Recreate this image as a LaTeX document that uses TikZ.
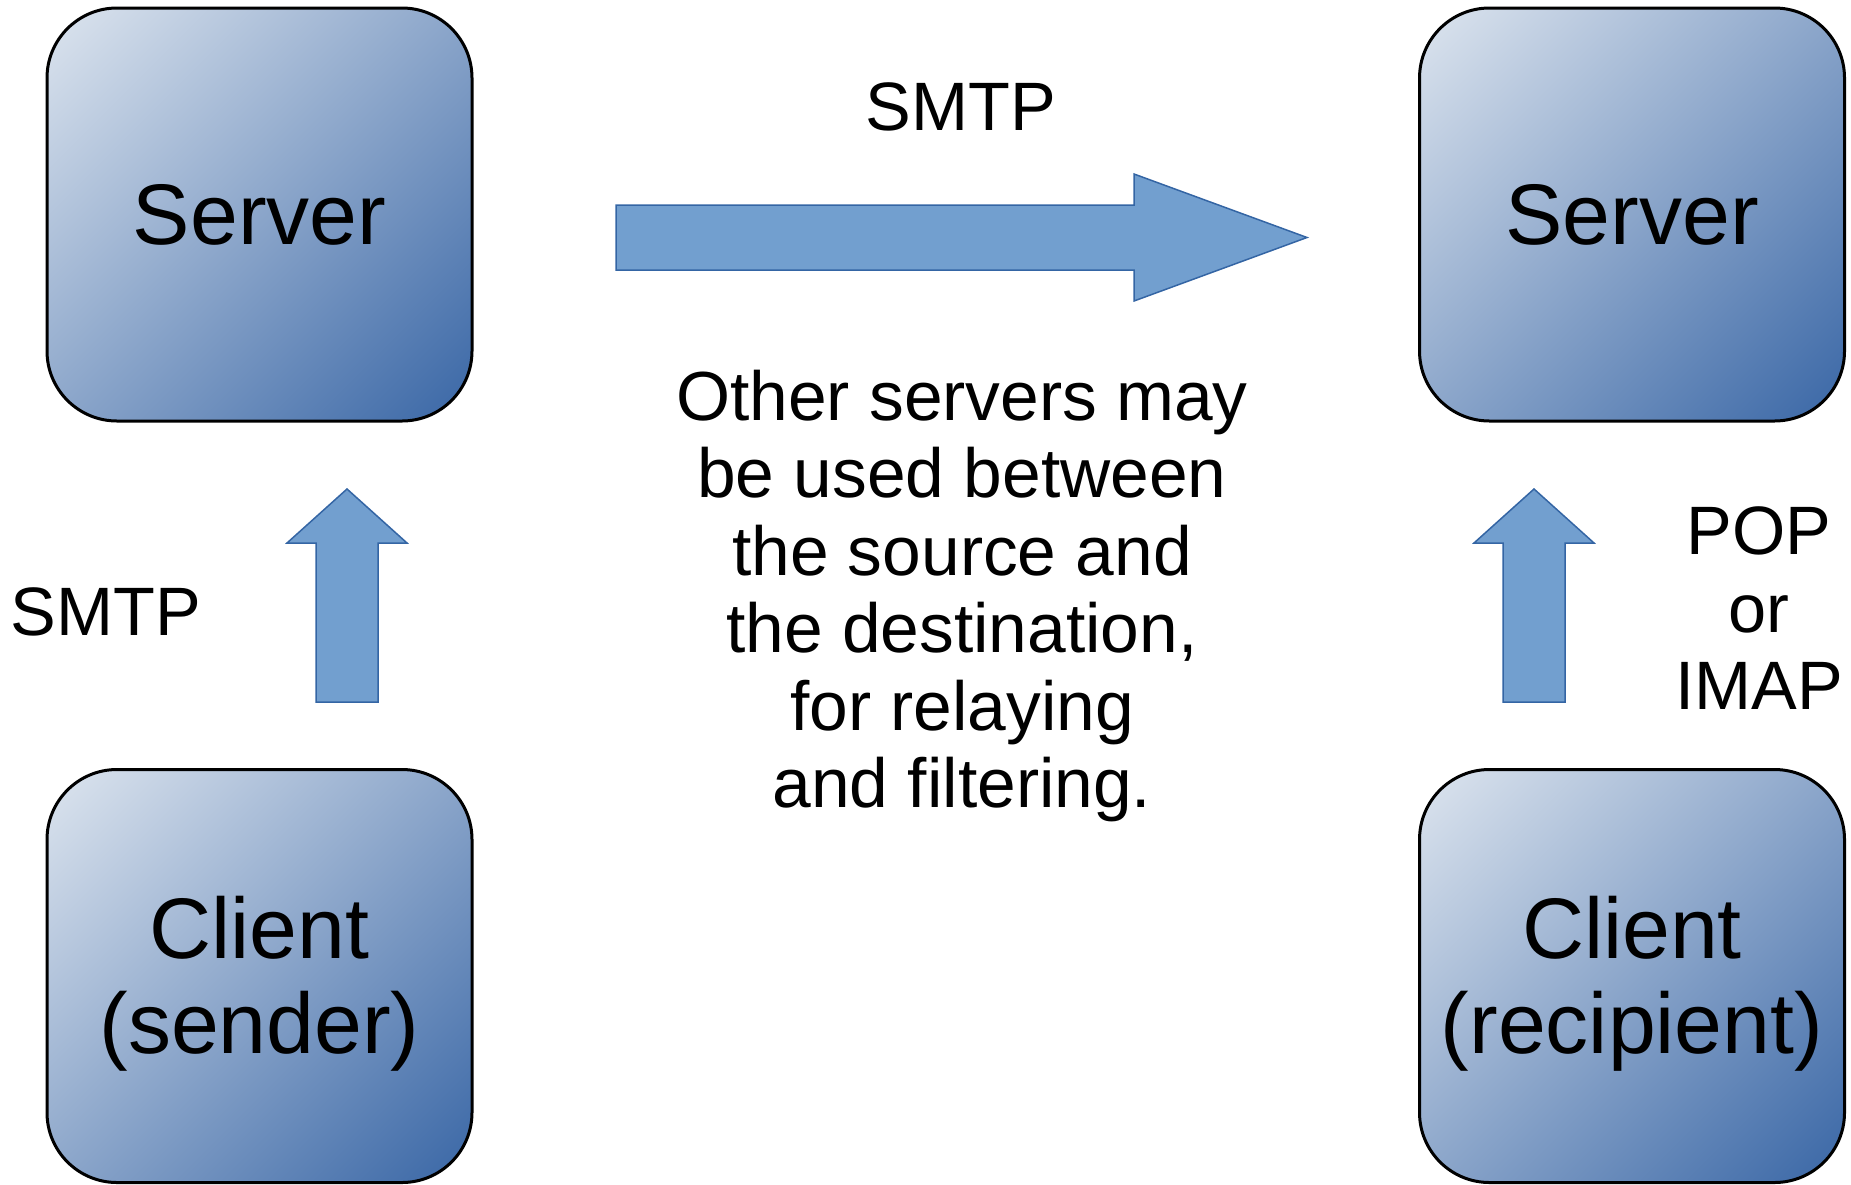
\documentclass[tikz,border=0pt]{standalone}
\usepackage{fontspec}
\setmainfont{Liberation Sans}
\definecolor{boxlight}{HTML}{DCE4EE}
\definecolor{boxdark}{HTML}{3A67A6}
\definecolor{arrfill}{HTML}{729FCF}
\definecolor{arrline}{HTML}{3465A4}
\pgfdeclareverticalshading{hostgrad}{100bp}{color(0bp)=(boxdark); color(15bp)=(boxdark); color(85bp)=(boxlight); color(100bp)=(boxlight)}
\begin{document}
\begin{tikzpicture}[x=1pt,y=-1pt,
  hostbox/.style={draw=black, line width=3pt, rounded corners=70pt,
    minimum width=425pt, minimum height=413pt, inner sep=0pt,
    shading=hostgrad, shading angle=45},
  boxtext/.style={inner sep=0pt, align=center, text=black,
    font=\fontsize{86}{95}\selectfont},
  lbl/.style={inner sep=0pt, align=center, text=black,
    font=\fontsize{68.5}{77.5}\selectfont},
  midtext/.style={inner sep=0pt, align=center, text=black,
    font=\fontsize{69.5}{77.4}\selectfont},
  blockarrow/.style={fill=arrfill, draw=arrline, line width=1.5pt, line join=miter}]
\useasboundingbox (0,0) rectangle (1851,1184);

% boxes
\node[hostbox] (srvL) at (259.5,214.5) {};
\node[hostbox] (srvR) at (1632,214.5) {};
\node[hostbox] (cliL) at (259.5,976) {};
\node[hostbox] (cliR) at (1632,976) {};

% box texts
\node[boxtext] (srvLt) at (srvL.center) {Server};
\node[boxtext] (srvRt) at (srvR.center) {Server};
\node[boxtext, yshift=-8pt] (cliLt) at (cliL.center) {Client\\(sender)};
\node[boxtext, yshift=-8pt] (cliRt) at (cliR.center) {Client\\(recipient)};

% block arrows
\draw[blockarrow] (616,205) -- (1134,205) -- (1134,174) -- (1307,237.5)
  -- (1134,301) -- (1134,270) -- (616,270) -- cycle;
\draw[blockarrow] (316,702) -- (316,543) -- (287,543) -- (347,489)
  -- (407,543) -- (378,543) -- (378,702) -- cycle;
\draw[blockarrow] (1503,702) -- (1503,543) -- (1474,543) -- (1534,489)
  -- (1594,543) -- (1565,543) -- (1565,702) -- cycle;

% labels
\node[lbl] (smtpTop) at (961,106.5) {SMTP};
\node[lbl] (smtpLeft) at (106,612) {SMTP};
\node[lbl] (popimap) at (1759,608.5) {POP\\or\\IMAP};
\node[midtext] (note) at (962,596) {Other servers may\\be used between\\the source and\\the destination,\\for relaying\\and filtering.};
\end{tikzpicture}
\end{document}
